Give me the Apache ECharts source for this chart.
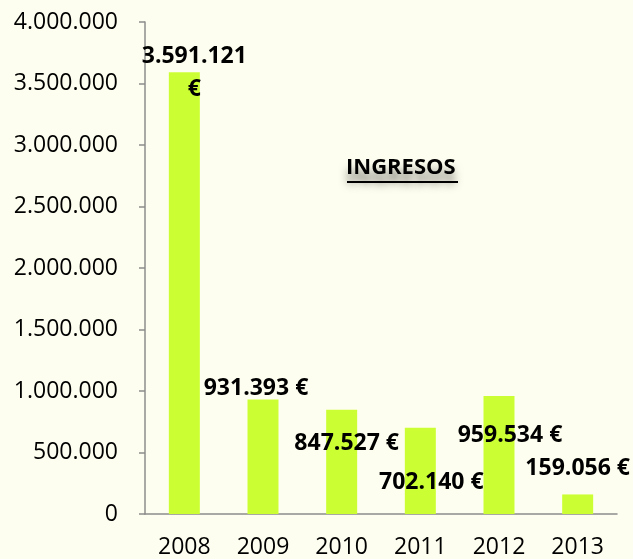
<!DOCTYPE html>
<html>
<head>
<meta charset="utf-8">
<title>Ingresos</title>
<script src="https://cdn.jsdelivr.net/npm/echarts@6/dist/echarts.min.js"></script>
<style>
  html, body { margin: 0; padding: 0; background: #fefef0; }
  #chart1 { width: 633px; height: 559px; }
</style>
</head>
<body>
<div id="chart1"></div>
<script type="text/javascript">
    // datos
    var years = ['2008', '2009', '2010', '2011', '2012', '2013'];
    var ingresos = [3591121, 931393, 847527, 702140, 959534, 159056];
    var labelTexts = ['3.591.121\n€', '931.393 €', '847.527 €', '702.140 €', '959.534 €', '159.056 €'];
    // desplazamiento de cada etiqueta respecto a la barra
    var labelOffsets = [[10, 39], [-7, 6], [5, 50], [11, 71], [11, 56], [0, -9]];

    function miles(v) {
        return String(v).replace(/\B(?=(\d{3})+(?!\d))/g, '.');
    }

    var myChart = echarts.init(document.getElementById('chart1'));

    var seriesData = ingresos.map(function (v, i) {
        var lbl = { formatter: labelTexts[i], offset: labelOffsets[i] };
        if (labelTexts[i].indexOf('\n') >= 0) lbl.lineHeight = 33;
        return { value: v, label: lbl };
    });

    var option = {
        backgroundColor: '#fefef0',
        animation: false,
        grid: { left: 145, right: 16, top: 22, bottom: 44 },
        xAxis: {
            type: 'category',
            data: years,
            axisLine: { lineStyle: { color: '#8c8c8c', width: 1.5 } },
            axisTick: { length: 6, lineStyle: { color: '#8c8c8c', width: 1.5 } },
            axisLabel: { margin: 22, fontSize: 23, color: '#000', fontFamily: 'Open Sans' }
        },
        yAxis: {
            type: 'value',
            min: 0,
            max: 4000000,
            interval: 500000,
            splitLine: { show: false },
            axisLine: { show: true, lineStyle: { color: '#8c8c8c', width: 1.5 } },
            axisTick: { show: true, length: 6, lineStyle: { color: '#8c8c8c', width: 1.5 } },
            axisLabel: { margin: 27, fontSize: 23, color: '#000', fontFamily: 'Open Sans', formatter: miles }
        },
        series: [{
            type: 'bar',
            data: seriesData,
            barWidth: 31,
            itemStyle: { color: '#ccff33' },
            label: {
                show: true,
                position: 'top',
                fontSize: 23,
                fontWeight: 'bold',
                fontFamily: 'Open Sans',
                color: '#000'
            }
        }],
        graphic: [{
            type: 'text',
            left: 346,
            top: 157,
            style: {
                text: 'INGRESOS',
                font: 'bold 22px "Open Sans"',
                fill: '#000',
                textShadowColor: 'rgba(0,0,0,0.5)',
                textShadowBlur: 8,
                textShadowOffsetY: 10
            }
        }, {
            type: 'line',
            shape: { x1: 347, y1: 182, x2: 458, y2: 182 },
            style: { stroke: '#000', lineWidth: 2 }
        }]
    };

    myChart.setOption(option);
</script>
</body>
</html>
